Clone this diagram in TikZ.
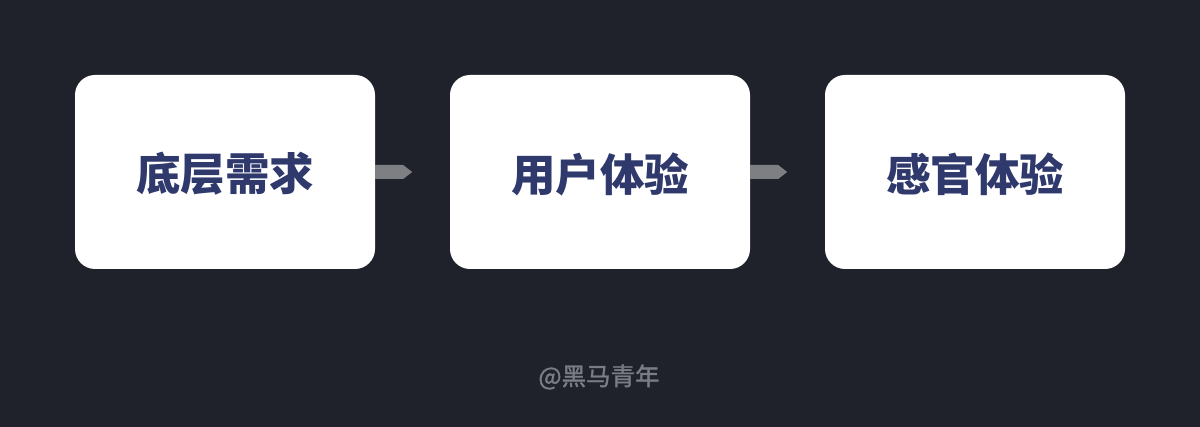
\documentclass[tikz,border=0pt]{standalone}
\usepackage{fontspec}
\newfontfamily\cjk{Noto Sans CJK SC}
\newfontfamily\cjkwm{Noto Sans CJK SC}[FakeBold=1.2]
\definecolor{bg}{HTML}{1F222B}
\definecolor{txt}{HTML}{2F396C}
\definecolor{arr}{HTML}{7E7F83}
\definecolor{wm}{HTML}{7A7D86}
\begin{document}
\begin{tikzpicture}[x=1pt,y=-1pt,
  card/.style={draw=none,fill=white,rounded corners=20pt,minimum width=300pt,minimum height=194pt,inner sep=0pt},
  lbl/.style={font=\cjk\bfseries\fontsize{44.5}{50}\selectfont,text=txt,inner sep=0pt},
  flow/.style={fill=arr,draw=none}]
\fill[bg] (0,0) rectangle (1200,427);
\useasboundingbox (0,0) rectangle (1200,427);
\node[card] (a) at (225,172) {};
\node[card] (b) at (600,172) {};
\node[card] (c) at (975,172) {};
\node[lbl] (ta) at ([yshift=-2pt]a.center) {底层需求};
\node[lbl] (tb) at ([yshift=-2pt]b.center) {用户体验};
\node[lbl] (tc) at ([yshift=-2pt]c.center) {感官体验};
\fill[flow] (a.east) ++(0,-7) -- ++(28,0) -- ++(9,7) -- ++(-9,7) -- ++(-28,0) -- cycle;
\fill[flow] (b.east) ++(0,-7) -- ++(28,0) -- ++(9,7) -- ++(-9,7) -- ++(-28,0) -- cycle;
\node[font=\cjkwm\fontsize{24.5}{28}\selectfont,text=wm] (w) at (599,377) {@黑马青年};
\end{tikzpicture}
\end{document}
